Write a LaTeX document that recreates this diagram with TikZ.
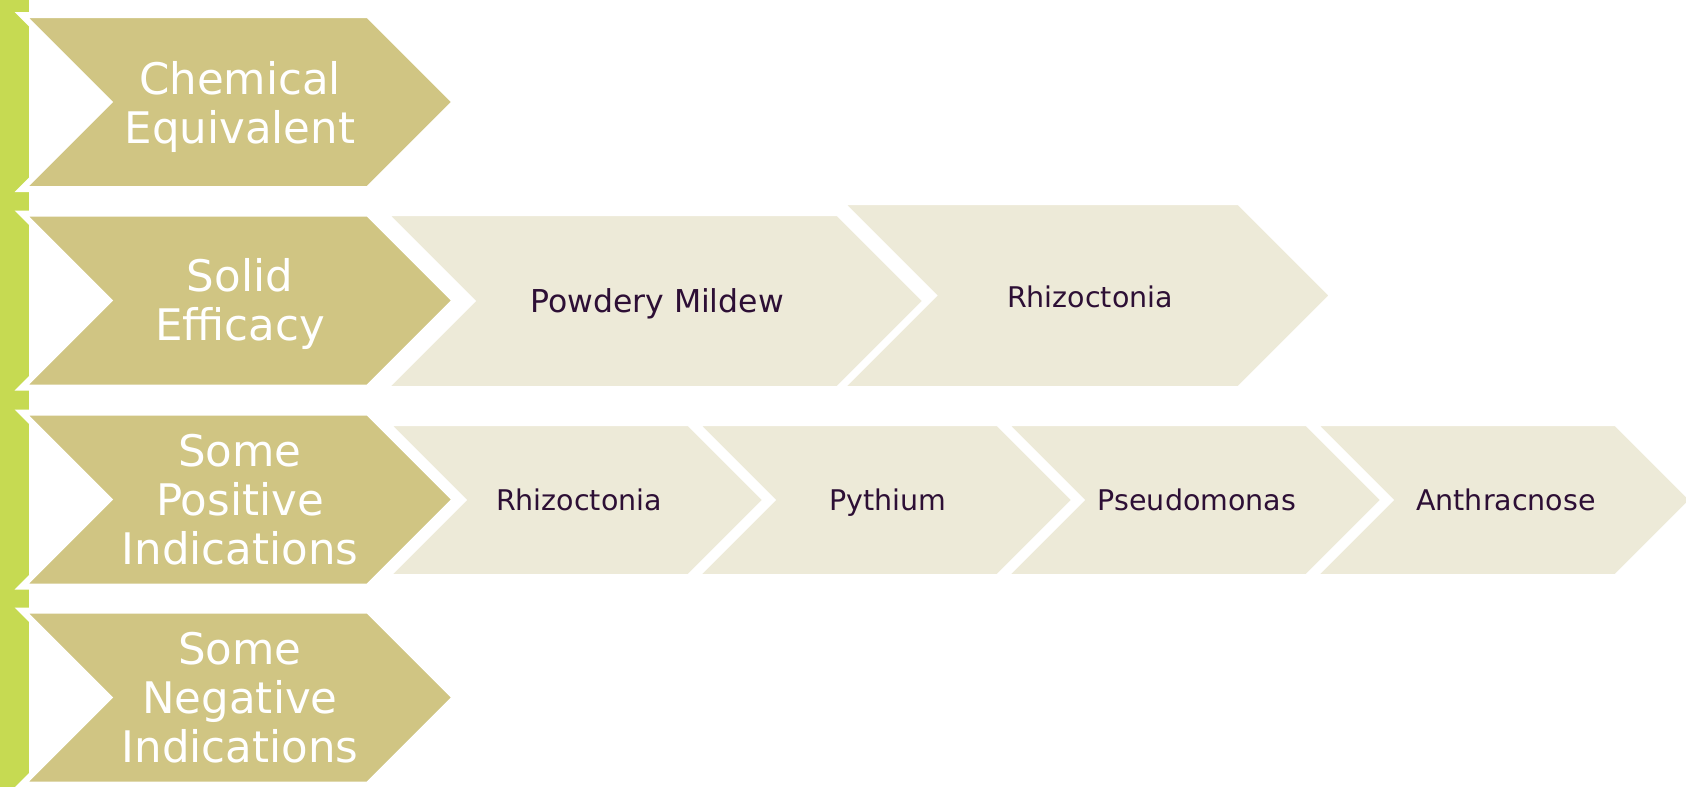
\documentclass[tikz,border=0pt]{standalone}
\usepackage{fontspec}
\setmainfont{DejaVu Sans}
\definecolor{barGreen}{HTML}{C6DA52}
\definecolor{darkFill}{HTML}{D0C583}
\definecolor{lightFill}{HTML}{EDEAD8}
\definecolor{itemText}{HTML}{2D0F35}
% chevron: style, left, top, shoulder, bottom (visible fill edges)
\newcommand{\chev}[5]{%
  \filldraw[#1] ({#2-7.2},{#3-3}) -- ({#4+1.2},{#3-3})
    -- ({#4+1.2+(#5-#3)/2+3},{(#3+#5)/2}) -- ({#4+1.2},{#5+3})
    -- ({#2-7.2},{#5+3}) -- ({#2-7.2+(#5-#3)/2+3},{(#3+#5)/2}) -- cycle;}

\begin{document}
\begin{tikzpicture}[x=1pt,y=-1pt,
    dark/.style={fill=darkFill, draw=white, line width=6pt},
    light/.style={fill=lightFill, draw=white, line width=6pt},
    head/.style={text=white, align=center, font=\fontsize{43.5}{49}\selectfont},
    item/.style={text=itemText, anchor=base, font=\fontsize{28.5}{34}\selectfont}]
		\useasboundingbox (0,0) rectangle (1686,787);
		%% The bar
		\fill[barGreen] (0,0) rectangle (29,787);
		%% The headings
		\chev{dark}{29}{18}{367}{186}
		\chev{dark}{29}{216.5}{367}{384.5}
		\chev{dark}{29}{415.5}{367}{583.5}
		\chev{dark}{29}{613.5}{367}{781.5}
		\node[head] (chem) at (240,106.5) {Chemical\\Equivalent};
		\node[head] (solid) at (240,304) {Solid\\Efficacy};
		\node[head] (pos) at (240,500) {Some\\Positive\\Indications};
		\node[head] (neg) at (240,697.5) {Some\\Negative\\Indications};
		%% Solid efficacy
		\chev{light}{391}{216}{837}{386}
		\chev{light}{847}{205}{1238}{386}
		\node[item, font=\fontsize{31.5}{36}\selectfont] (mildew) at (657,312) {Powdery Mildew};
		\node[item] (rhizoA) at (1090,307) {Rhizoctonia};
		%% Positive indications
		\foreach \x/\name/\txt in {393/rhizoB/Rhizoctonia, 702/pyth/Pythium,
				1011/pseudo/Pseudomonas, 1320/anthr/Anthracnose} {
			\chev{light}{\x}{426}{\x+295}{574}
			\node[item] (\name) at ({\x+186},510) {\txt};
		}
	\end{tikzpicture}
\end{document}
